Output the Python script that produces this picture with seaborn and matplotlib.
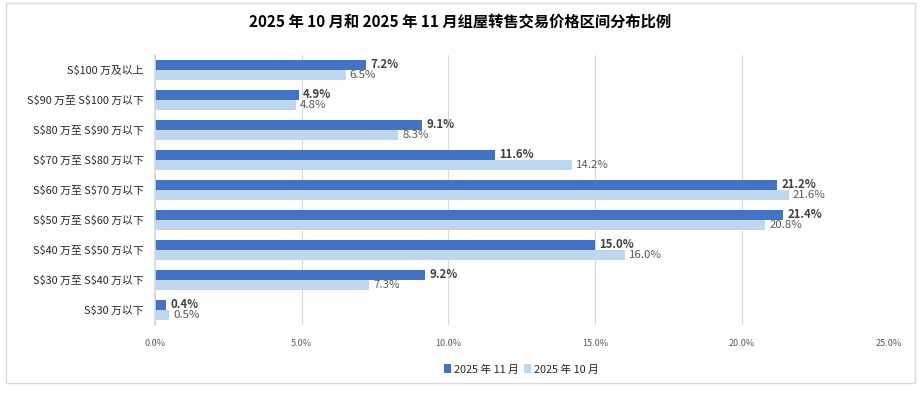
import pandas as pd
import seaborn as sns
import matplotlib.pyplot as plt
from matplotlib.patches import Rectangle

# price bands, top to bottom ("\$" so matplotlib doesn't read mathtext)
categories = ["S\\$100 万及以上", "S\\$90 万至 S\\$100 万以下", "S\\$80 万至 S\\$90 万以下",
              "S\\$70 万至 S\\$80 万以下", "S\\$60 万至 S\\$70 万以下", "S\\$50 万至 S\\$60 万以下",
              "S\\$40 万至 S\\$50 万以下", "S\\$30 万至 S\\$40 万以下", "S\\$30 万以下"]
nov_values = [7.2, 4.9, 9.1, 11.6, 21.2, 21.4, 15.0, 9.2, 0.4]
oct_values = [6.5, 4.8, 8.3, 14.2, 21.6, 20.8, 16.0, 7.3, 0.5]
series_names = ["2025 年 11 月", "2025 年 10 月"]
xticks = [0, 5, 10, 15, 20, 25]

data = pd.DataFrame({
    "band": categories * 2,
    "pct": nov_values + oct_values,
    "month": [series_names[0]] * len(categories) + [series_names[1]] * len(categories),
})

sns.set_theme(style="white")
plt.rcParams['font.family'] = ['Noto Sans CJK SC', 'DejaVu Sans']

fig = plt.figure(figsize=(9.21, 3.93), dpi=100)
ax = fig.add_axes([0.168, 0.173, 0.797, 0.687])

sns.barplot(data=data, y="band", x="pct", hue="month", order=categories,
            hue_order=series_names, palette=["#4472C4", "#BDD7EE"], saturation=1,
            width=0.72, gap=0.08, linewidth=0, ax=ax, orient="h")

# value labels
ax.bar_label(ax.containers[0], fmt="%.1f%%", padding=3, fontsize=8.2,
             fontweight="bold", color="#404040")
ax.bar_label(ax.containers[1], fmt="%.1f%%", padding=3, fontsize=8.2,
             color="#595959")

ax.set_xlim(0, 25)
ax.set_ylim(8.5, -0.5)
ax.set_xticks(xticks)
ax.set_xticklabels([f"{t:.1f}%" for t in xticks], fontsize=6.5, color="#595959")
ax.tick_params(axis="y", labelsize=7.8, labelcolor="#262626", length=0, pad=8)
ax.tick_params(axis="x", length=0, pad=10)
ax.set_xlabel("")
ax.set_ylabel("")
ax.grid(axis="x", color="#d9d9d9", linewidth=0.8)
ax.set_axisbelow(True)
for s in ["top", "right", "bottom"]:
    ax.spines[s].set_visible(False)
ax.spines["left"].set_color("#d9d9d9")

ax.legend(loc="upper center", bbox_to_anchor=(0.5, -0.11), ncol=2, frameon=False,
          fontsize=7.8, handlelength=0.6, handleheight=0.9, handletextpad=0.3,
          columnspacing=0.5)

fig.text(0.5, 0.945, "2025 年 10 月和 2025 年 11 月组屋转售交易价格区间分布比例",
         ha="center", va="center", fontsize=11, fontweight="bold", color="#000000")

fig.patches.append(Rectangle((0.006, 0.025), 0.988, 0.967, transform=fig.transFigure,
                             fill=False, edgecolor="#d9d9d9", linewidth=1))

plt.savefig("out.png", dpi=100)
